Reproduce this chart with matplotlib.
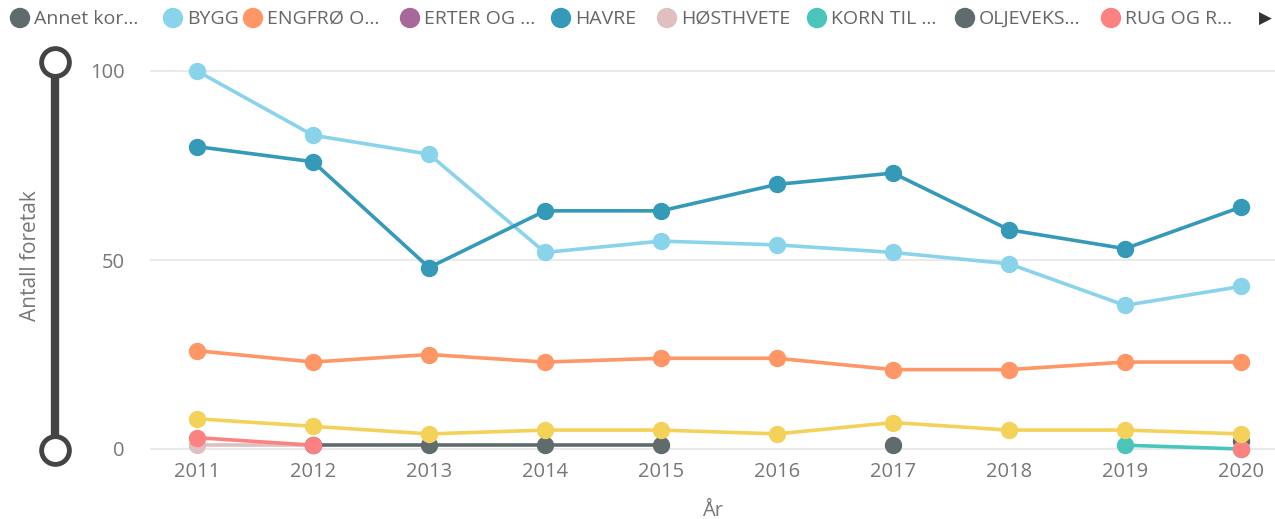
import numpy as np
import matplotlib
matplotlib.use("Agg")
import matplotlib.pyplot as plt
from matplotlib.lines import Line2D
from matplotlib.patches import Circle

plt.rcParams['font.family'] = ['Open Sans', 'DejaVu Sans']

nan = np.nan
years = [2011, 2012, 2013, 2014, 2015, 2016, 2017, 2018, 2019, 2020]

# series values
annet_korn = [nan, nan, nan, nan, nan, nan, nan, nan, nan, 2]
bygg = [100, 83, 78, 52, 55, 54, 52, 49, 38, 43]
engfro = [26, 23, 25, 23, 24, 24, 21, 21, 23, 23]
erter = [nan] * 10
havre = [80, 76, 48, 63, 63, 70, 73, 58, 53, 64]
hosthvete = [1, 1, nan, nan, nan, nan, nan, nan, nan, nan]
korn_til = [nan, nan, nan, nan, nan, nan, nan, nan, 1, 0]
oljeveks = [nan, 1, 1, 1, 1, nan, 1, nan, nan, nan]
rug = [3, 1, nan, nan, nan, nan, nan, nan, nan, 0]
varhvete = [8, 6, 4, 5, 5, 4, 7, 5, 5, 4]

series = [
    ("Annet kor...", annet_korn, "#5F6B6D"),
    ("BYGG", bygg, "#8AD4EB"),
    ("ENGFRØ O...", engfro, "#FE9666"),
    ("ERTER OG ...", erter, "#A66999"),
    ("HAVRE", havre, "#3599B8"),
    ("HØSTHVETE", hosthvete, "#DFBFBF"),
    ("KORN TIL ...", korn_til, "#4AC5BB"),
    ("OLJEVEKS...", oljeveks, "#5F6B6D"),
    ("RUG OG R...", rug, "#FB8281"),
    ("VÅRHVETE", varhvete, "#F4D25A"),
]

W, H = 1275, 519
fig = plt.figure(figsize=(W / 100, H / 100), dpi=100)

# axes in pixel terms: x 150..1275, y 45..455 (top..bottom)
ax_l, ax_r, ax_t, ax_b = 150, 1275, 45, 455
ax = fig.add_axes([ax_l / W, 1 - ax_b / H, (ax_r - ax_l) / W, (ax_b - ax_t) / H])

ppu = (449 - 71) / 100.0
ax.set_ylim(-(ax_b - 449) / ppu, 100 + (71 - ax_t) / ppu)
ppx = (1241 - 197) / 9.0
ax.set_xlim(2011 - (197 - ax_l) / ppx, 2020 + (ax_r - 1241) / ppx)

for y in [0, 50, 100]:
    ax.axhline(y, color="#E6E6E6", lw=1.2, zorder=0)

for name, vals, col in series:
    ax.plot(years, vals, color=col, lw=2.6, marker="o", ms=11.5,
            solid_capstyle="round", clip_on=False, zorder=2)

for s in ax.spines.values():
    s.set_visible(False)
ax.set_xticks(years)
ax.set_xticklabels([str(y) for y in years])
ax.set_yticks([0, 50, 100])
ax.tick_params(length=0, labelsize=14.5, colors="#777777", pad=5)
ax.tick_params(axis="y", pad=18)
ax.set_xlabel("År", fontsize=14.5, color="#777777", labelpad=14)

fig.text(30 / W, 1 - 256 / H, "Antall foretak", rotation=90, fontsize=15,
         color="#777777", ha="center", va="center")

# legend row
leg_x = [20, 173, 253, 410, 561, 667, 817, 965, 1111]
for (name, vals, col), x in zip(series[:9], leg_x):
    c = Circle((x / 100, (H - 18) / 100), 0.095, color=col,
               transform=fig.dpi_scale_trans)
    fig.patches.append(c)
    fig.text((x + 14) / W, 1 - 19 / H, name, fontsize=14, color="#666666",
             ha="left", va="center")
fig.text(1259 / W, 1 - 19 / H, "▶", fontsize=12, color="#333333",
         ha="left", va="center", family=["DejaVu Sans"])

# slider on the left
slider_x = 55
fig.add_artist(Line2D([slider_x / W, slider_x / W], [1 - 62 / H, 1 - 450 / H],
                      color="#444444", lw=6))
for yy in [62, 450]:
    fig.add_artist(Line2D([slider_x / W], [1 - yy / H], marker="o", ms=20,
                          mfc="white", mec="#444444", mew=3.5, lw=0))

fig.savefig("out.png", dpi=100)
